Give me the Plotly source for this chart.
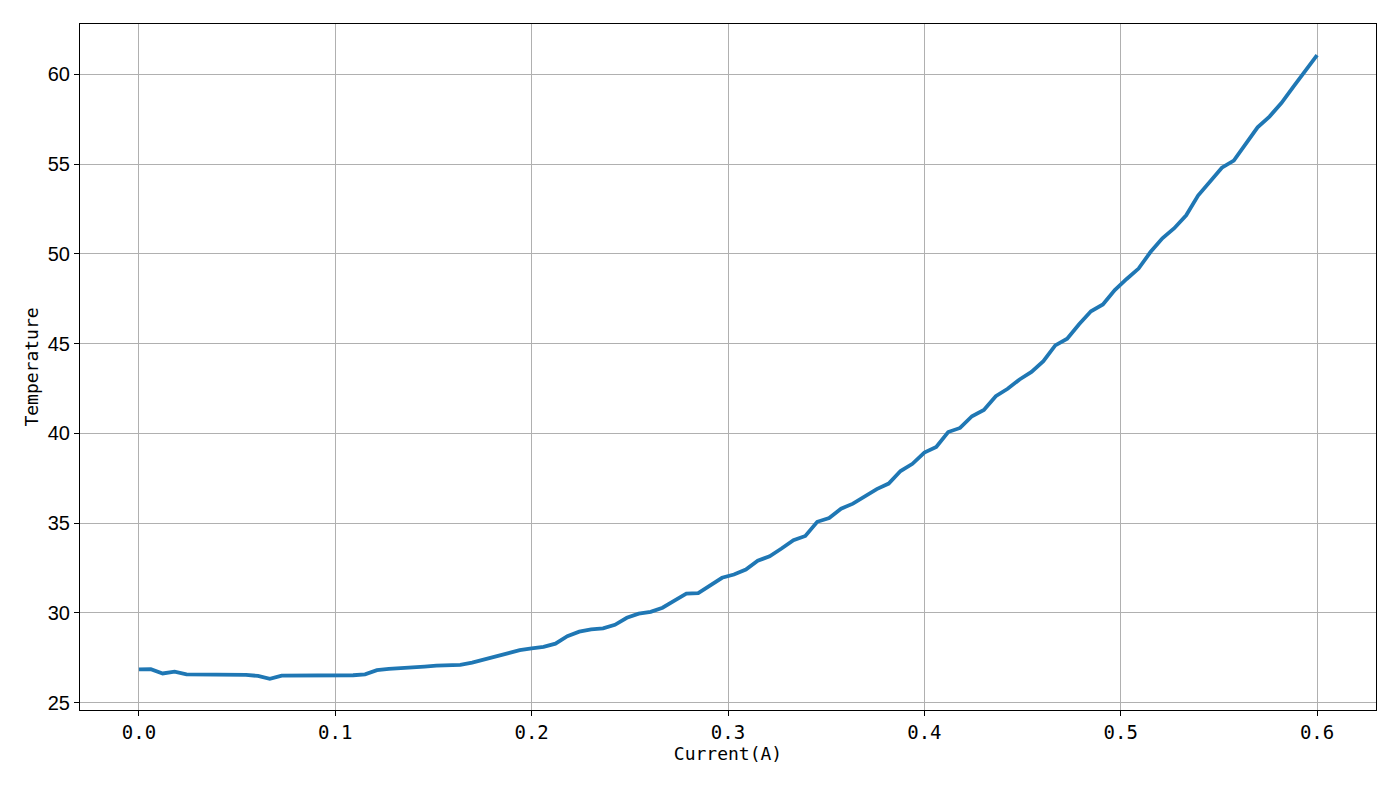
import numpy as np
import plotly.graph_objects as go

current = np.linspace(0, 0.6, 100)
temperature = [
    26.85, 26.86, 26.62, 26.72, 26.57, 26.57, 26.53, 26.53, 26.52, 26.54,
    26.48, 26.32, 26.50, 26.50, 26.52, 26.50, 26.50, 26.52, 26.52, 26.57,
    26.80, 26.87, 26.90, 26.97, 27.00, 27.05, 27.05, 27.10, 27.22, 27.40,
    27.57, 27.75, 27.92, 28.02, 28.10, 28.28, 28.70, 28.95, 29.07, 29.13,
    29.33, 29.72, 29.95, 30.05, 30.28, 30.68, 31.07, 31.10, 31.50, 31.95,
    32.13, 32.41, 32.90, 33.15, 33.58, 34.05, 34.28, 35.07, 35.28, 35.80,
    36.08, 36.46, 36.89, 37.20, 37.90, 38.30, 38.93, 39.24, 40.07, 40.30,
    40.95, 41.30, 42.07, 42.48, 43.00, 43.42, 44.02, 44.90, 45.27, 46.08,
    46.80, 47.18, 47.98, 48.60, 49.18, 50.10, 50.87, 51.43, 52.15, 53.25,
    54.00, 54.80, 55.20, 56.15, 57.05, 57.65, 58.40, 59.30, 60.15, 61.07,
]
x_ticks = [0.0, 0.1, 0.2, 0.3, 0.4, 0.5, 0.6]
x_tick_labels = ["0.0", "0.1", "0.2", "0.3", "0.4", "0.5", "0.6"]
y_ticks = [25, 30, 35, 40, 45, 50, 55, 60]

xmin, xmax = float(current.min()), float(current.max())
ymin, ymax = min(temperature), max(temperature)
xpad = (xmax - xmin) * 0.05
ypad = (ymax - ymin) * 0.05

mono = "DejaVu Sans Mono"

fig = go.Figure()
fig.add_trace(go.Scatter(
    x=current, y=temperature, mode="lines",
    line=dict(color="#1f77b4", width=3.8),
    showlegend=False,
))

fig.update_layout(
    width=1400, height=787,
    margin=dict(l=72, r=32, t=16, b=85),
    paper_bgcolor="white", plot_bgcolor="white",
    xaxis=dict(
        range=[xmin - xpad, xmax + xpad],
        tickvals=x_ticks, ticktext=x_tick_labels,
        showgrid=True, gridcolor="#b0b0b0", gridwidth=1,
        zeroline=False, automargin=False,
        showline=True, linecolor="black", linewidth=1, mirror=True,
        ticks="outside", ticklen=5, tickcolor="black",
        tickfont=dict(family=mono, size=19, color="black"),
        title=dict(text="Current(A)", font=dict(family=mono, size=18, color="black"), standoff=3),
    ),
    yaxis=dict(
        range=[ymin - ypad, ymax + ypad],
        tickvals=y_ticks,
        showgrid=True, gridcolor="#b0b0b0", gridwidth=1,
        zeroline=False, automargin=False,
        showline=True, linecolor="black", linewidth=1, mirror=True,
        ticks="outside", ticklen=5, tickcolor="black",
        tickfont=dict(family="Liberation Sans", size=20, color="black"),
        title=dict(text="Temperature", font=dict(family=mono, size=18, color="black"), standoff=4),
    ),
)

fig.write_html("out.html")
